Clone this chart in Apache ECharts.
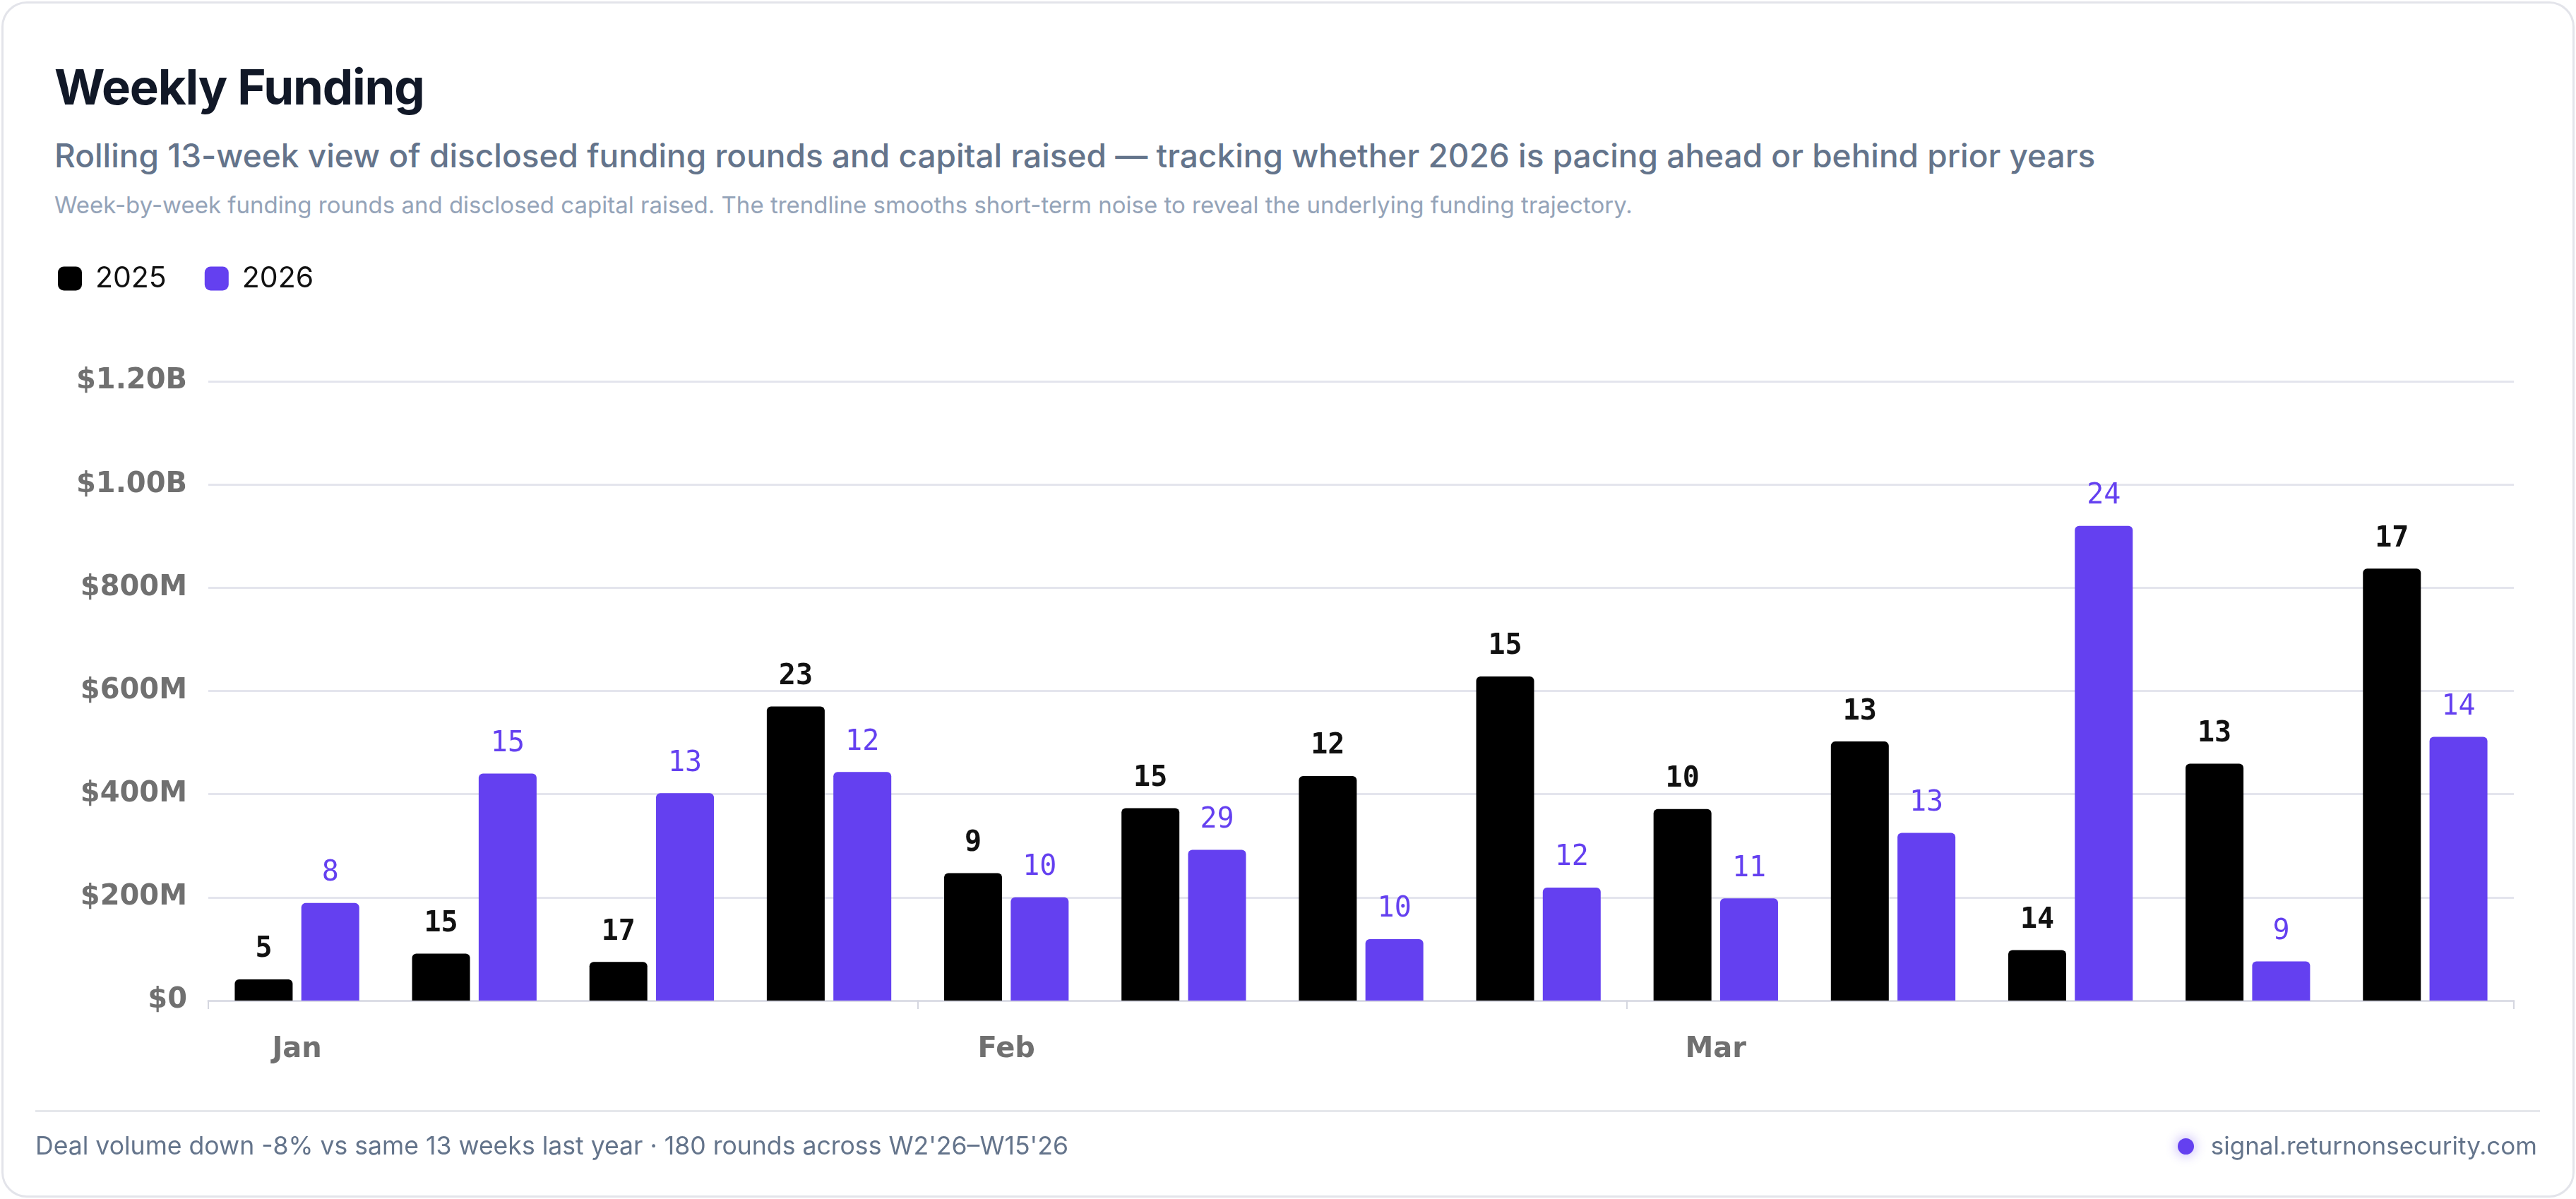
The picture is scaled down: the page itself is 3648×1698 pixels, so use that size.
<!DOCTYPE html>
<html>
<head>
<meta charset="utf-8">
<script src="https://cdn.jsdelivr.net/npm/echarts@6/dist/echarts.min.js"></script>
<style>
  html, body { margin: 0; padding: 0; background: #ffffff; }
  body { width: 3648px; height: 1698px; position: relative; overflow: hidden; font-family: Inter, "Noto Sans", sans-serif; }
  #card { position: absolute; left: 2px; top: 2px; width: 3638px; height: 1688px; border: 3px solid #e3e4ea; border-radius: 36px; background: #fff; }
  .t { position: absolute; white-space: nowrap; line-height: 1; }
  #title { left: 77px; top: 89px; font-size: 69px; font-weight: 700; color: #111827; letter-spacing: -1.2px; }
  #subtitle { left: 77px; top: 197px; font-size: 46px; font-weight: 500; color: #64748b; }
  #desc { left: 77px; top: 274px; font-size: 33px; font-weight: 400; color: #94a3b8; }
  #sep { position: absolute; left: 50px; width: 3547px; top: 1572px; height: 3px; background: #e5e7eb; }
  #foot { left: 50px; top: 1605px; font-size: 35.6px; color: #64748b; }
  #site { right: 55px; top: 1605px; font-size: 35px; color: #64748b; }
  #dot { position: absolute; left: 3084px; top: 1612px; width: 23px; height: 23px; border-radius: 50%; background: #6440f0; box-shadow: 0 0 14px 4px rgba(100,64,240,0.25); }
  #chart { position: absolute; left: 0; top: 0; width: 3648px; height: 1698px; }
</style>
</head>
<body>
<div id="card"></div>
<div class="t" id="title">Weekly Funding</div>
<div class="t" id="subtitle">Rolling 13-week view of disclosed funding rounds and capital raised — tracking whether 2026 is pacing ahead or behind prior years</div>
<div class="t" id="desc">Week-by-week funding rounds and disclosed capital raised. The trendline smooths short-term noise to reveal the underlying funding trajectory.</div>
<div id="chart"></div>
<div id="sep"></div>
<div class="t" id="foot">Deal volume down -8% vs same 13 weeks last year · 180 rounds across W2'26–W15'26</div>
<div id="dot"></div>
<div class="t" id="site">signal.returnonsecurity.com</div>
<script>
// ---- data ----
const weeks = ["W2","W3","W4","W5","W6","W7","W8","W9","W10","W11","W12","W13","W14"];
const monthLabels = ["Jan","","","","Feb","","","","Mar","","","",""];
const capital2025 = [41, 91, 75, 570, 247, 373, 435, 628, 371, 502, 98, 459, 837];   // $M
const capital2026 = [189, 440, 402, 443, 200, 292, 119, 219, 198, 325, 920, 76, 511]; // $M
const rounds2025 = [5, 15, 17, 23, 9, 15, 12, 15, 10, 13, 14, 13, 17];
const rounds2026 = [8, 15, 13, 12, 10, 29, 10, 12, 11, 13, 24, 9, 14];
const yTicks = [0, 200, 400, 600, 800, 1000, 1200];
const tickIdx = [0, 4, 8, 13];

const C25 = '#000000';
const C26 = '#6440f0';

function fmtY(v) {
  if (v === 0) return '$0';
  if (v >= 1000) return '$' + (v / 1000).toFixed(2) + 'B';
  return '$' + v + 'M';
}

const chart = echarts.init(document.getElementById('chart'), null, { renderer: 'canvas' });
chart.setOption({
  animation: false,
  backgroundColor: 'transparent',
  legend: {
    left: 77, top: 369,
    itemWidth: 34, itemHeight: 34, itemGap: 54,
    icon: 'roundRect',
    textStyle: { fontFamily: 'Inter', fontSize: 41, color: '#111111', padding: [0, 0, 0, 14] },
    data: [
      { name: '2025', itemStyle: { color: C25, borderRadius: 8 } },
      { name: '2026', itemStyle: { color: C26, borderRadius: 8 } }
    ]
  },
  grid: { left: 295, right: 88, top: 540, bottom: 281, containLabel: false },
  xAxis: {
    type: 'category',
    data: weeks,
    boundaryGap: true,
    axisLine: { show: true, lineStyle: { color: '#dcdde6', width: 3 } },
    axisTick: { show: true, length: 12, lineStyle: { color: '#d5d7e0', width: 2 },
      interval: function (i) { return tickIdx.indexOf(i) >= 0; } },
    axisLabel: {
      interval: 0, margin: 50,
      formatter: function (v, i) { return monthLabels[i]; },
      fontFamily: 'DejaVu Sans', fontWeight: 'bold', fontSize: 40, color: '#707070'
    }
  },
  yAxis: {
    type: 'value', min: yTicks[0], max: yTicks[yTicks.length - 1], interval: 200,
    axisLine: { show: false }, axisTick: { show: false },
    splitLine: { lineStyle: { color: '#e4e5ed', width: 3 } },
    axisLabel: { formatter: fmtY, margin: 30, fontFamily: 'DejaVu Sans', fontWeight: 'bold', fontSize: 40, color: '#707070' }
  },
  series: [
    {
      name: '2025', type: 'bar', data: capital2025, barWidth: 82, barGap: '15%',
      itemStyle: { color: C25, borderRadius: [6, 6, 0, 0] },
      label: { show: true, position: 'top', distance: 22, formatter: function (p) { return rounds2025[p.dataIndex]; },
        fontFamily: 'DejaVu Sans Mono', fontWeight: 'bold', fontSize: 40, color: '#111111' }
    },
    {
      name: '2026', type: 'bar', data: capital2026, barWidth: 82, barGap: '15%',
      itemStyle: { color: C26, borderRadius: [6, 6, 0, 0] },
      label: { show: true, position: 'top', distance: 22, formatter: function (p) { return rounds2026[p.dataIndex]; },
        fontFamily: 'DejaVu Sans Mono', fontWeight: 'normal', fontSize: 40, color: C26 }
    }
  ]
});
</script>
</body>
</html>
